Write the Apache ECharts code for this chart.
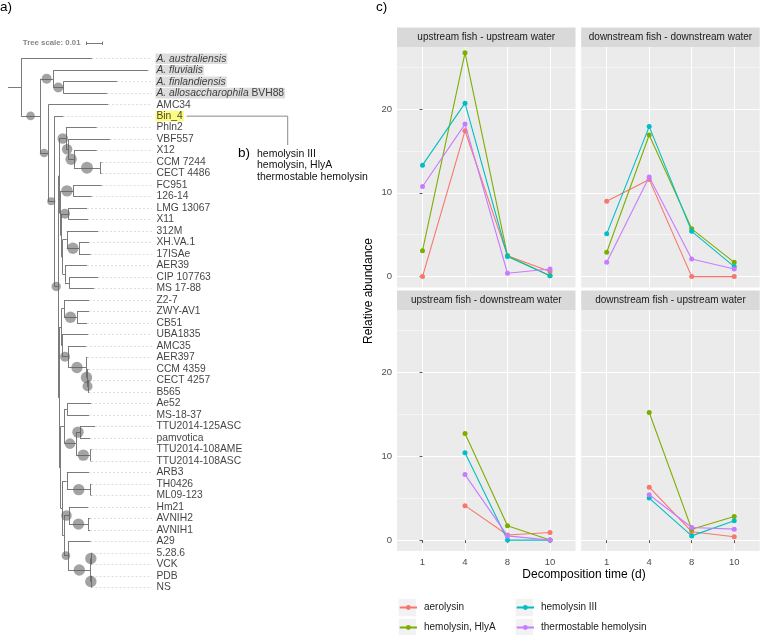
<!DOCTYPE html>
<html>
<head>
<meta charset="utf-8">
<title>Aeromonas tree and hemolysin abundance</title>
<script src="https://cdn.jsdelivr.net/npm/echarts@6.0.0/dist/echarts.min.js"></script>
<style>
  html, body { margin: 0; background: #fff; }
  #chart { width: 760px; height: 635px; }
</style>
</head>
<body>
<div id="chart"></div>
<script>
// ---------- a) phylogeny ----------
// Newick, branch lengths in 0.001 subst./site, internal labels = bootstrap support
const cladeUpper = '((Phln2:18.4,(VBF557:25.0,(X12:13.6,(CCM 7244:0.9,CECT 4486:0.9)100:15.6)95:3.4)88:1.4)88:3.8,' +
  '((FC951:17.0,126-14:11.0)95:7.6,((LMG 13067:11.2,X11:11.8)83:4.0,((312M:18.7,(XH.VA.1:6.0,17ISAe:7.0)95:7.3):2.5,' +
  '(AER39:13.2,(CIP 107763:17.2,MS 17-88:14.8):2.6):1.4):0.6):0.6):0.6):0.9';
const cladeLower = '(((Z2-7:15.0,(ZWY-AV1:7.2,CB51:6.0)95:7.8):1.4,(UBA1835:15.5,(AMC35:10.8,(AER397:0.9,(CCM 4359:0.9,' +
  '(CECT 4257:0.6,B565:0.6)83:0.6)95:0.6)95:10.8)83:3.5):0.3):1.5,(((Ae52:14.4,MS-18-37:13.2):1.8,' +
  '((TTU2014-125ASC:9.0,pamvotica:6.0)95:2.4,(TTU2014-108AME:0.5,TTU2014-108ASC:0.5)95:8.8)88:7.2):2.0,' +
  '((ARB3:13.3,(TH0426:0.5,ML09-123:0.5)95:14.3):2.7,((Hm21:11.4,(AVNIH2:1.2,AVNIH1:1.2)95:11.4)88:3.0,' +
  '(A29:13.6,((5.28.6:0.3,VCK:0.3)95:0.2,(PDB:0.3,NS:0.3)95:0.2)95:13.6)72:2.4):1.0):1.0):0.9):0.6';
const treeNewick = '(A. australiensis:42.5,((A. fluvialis:56.7,(A. finlandiensis:32.2,A. allosaccharophila BVH88:26.2)83:6.0)83:7.9,' +
  '(AMC34:35.8,(Bin_4:5.4,(' + cladeUpper + ',' + cladeLower + ')78:2.3)67:3.6)72:4.9)72:11.4):7.8;';
const refSpecies = ['A. australiensis', 'A. fluvialis', 'A. finlandiensis', 'A. allosaccharophila BVH88'];
const highlightLeaf = 'Bin_4';
const treeScale = 0.01;
const binGenes = ['hemolysin III', 'hemolysin, HlyA', 'thermostable hemolysin'];

// ---------- c) relative abundance ----------
const days = ['1', '4', '8', '10'];
const genes = ['aerolysin', 'hemolysin, HlyA', 'hemolysin III', 'thermostable hemolysin'];
const facetTitles = ['upstream fish - upstream water', 'downstream fish - downstream water',
  'upstream fish - downstream water', 'downstream fish - upstream water'];
// rows follow genes, columns follow days
const upFishUpWater = [[0, 17.4, 2.5, 0.6], [3.1, 26.7, 2.5, 0.1], [13.3, 20.7, 2.4, 0.1], [10.75, 18.2, 0.4, 0.9]];
const downFishDownWater = [[9.0, 11.6, 0, 0], [2.9, 16.9, 5.7, 1.7], [5.1, 17.9, 5.4, 1.2], [1.7, 11.9, 2.1, 0.9]];
const upFishDownWater = [[null, 4.1, 0.6, 0.9], [null, 12.7, 1.7, 0], [null, 10.4, 0, 0], [null, 7.8, 0.5, 0]];
const downFishUpWater = [[null, 6.3, 1.0, 0.4], [null, 15.2, 1.3, 2.8], [null, 5.0, 0.5, 2.3], [null, 5.4, 1.5, 1.3]];
const yTicks = [0, 10, 20];

// ---------- styles / layout ----------
const FONT = "'Liberation Sans', Arial, sans-serif";
const GENE_COLORS = ['#F8766D', '#7CAE00', '#00BFC4', '#C77CFF'];
const UNIT = 0.001;
const TREE = { left: 8, top: 35.72, width: 167, height: 557.3, xMin: -0.0078, xMax: 0.0922, yMin: -2, yMax: 46.5 };
const LABEL_X = 0.0802;
const LEADER_END = 0.0784;
const SCALE_AT = 0.0389, SCALE_ROW = -1.34;
const PANEL_LEFT = [397, 581.2], PANEL_W = 178.5;
const PANEL_TOP = [47, 310], PANEL_H = [240.5, 241], STRIP_H = 19.6;
const X_MIN = -0.6, X_MAX = 3.6, Y_MIN = -1.3, Y_MAX = 27.4;

function parseNewick(s) {
  let i = 0;
  function node() {
    const n = { children: [] };
    if (s[i] === '(') {
      i++;
      n.children.push(node());
      while (s[i] === ',') { i++; n.children.push(node()); }
      i++;
    }
    let label = '';
    while (i < s.length && !',:();'.includes(s[i])) label += s[i++];
    n.label = label.trim();
    n.len = 0;
    if (s[i] === ':') {
      i++;
      let num = '';
      while (i < s.length && !',();'.includes(s[i])) num += s[i++];
      n.len = parseFloat(num);
    }
    return n;
  }
  return node();
}

function layoutTree(root) {
  let row = 0;
  const out = [];
  (function walk(n, depth, parent) {
    n.x = depth;
    n.parent = parent;
    out.push(n);
    if (n.children.length) {
      n.children.forEach(c => walk(c, depth + c.len * UNIT, n));
      n.y = (n.children[0].y + n.children[n.children.length - 1].y) / 2;
    } else {
      n.y = row++;
    }
  })(root, 0, null);
  return out;
}

const root = parseNewick(treeNewick);
const nodes = layoutTree(root);
const leaves = nodes.filter(n => !n.children.length);

const branchSegs = [[[-root.len * UNIT, root.y], [0, root.y]]];
nodes.forEach(n => {
  if (n.parent) branchSegs.push([[n.parent.x, n.y], [n.x, n.y]]);
  if (n.children.length) {
    branchSegs.push([[n.x, n.children[0].y], [n.x, n.children[n.children.length - 1].y]]);
  }
});
const leaderSegs = leaves.map(n => [[n.x, n.y], [LEADER_END, n.y]]);
const supportPts = nodes
  .filter(n => n.parent && n.children.length && n.label)
  .map(n => [(n.parent.x + n.x) / 2, n.y, +n.label]);
const scaleSegs = [
  [[SCALE_AT, SCALE_ROW], [SCALE_AT + treeScale, SCALE_ROW]],
  [[SCALE_AT, SCALE_ROW - 0.15], [SCALE_AT, SCALE_ROW + 0.15]],
  [[SCALE_AT + treeScale, SCALE_ROW - 0.15], [SCALE_AT + treeScale, SCALE_ROW + 0.15]]
];

const labelData = leaves.map(n => {
  const ref = refSpecies.includes(n.label);
  const hi = n.label === highlightLeaf;
  const m = n.label.match(/^(A\. \S+)(.*)$/);
  return {
    value: [LABEL_X, n.y],
    label: {
      formatter: ref ? '{i|' + m[1] + '}' + m[2] : n.label,
      backgroundColor: ref ? '#d4d4d4' : (hi ? '#fafa62' : 'transparent')
    }
  };
});

const series = [
  {
    type: 'lines', coordinateSystem: 'cartesian2d', xAxisIndex: 0, yAxisIndex: 0, silent: true,
    data: leaderSegs.map(c => ({ coords: c })),
    lineStyle: { color: '#dedede', width: 1, type: [2, 2], opacity: 1 }
  },
  {
    type: 'lines', coordinateSystem: 'cartesian2d', xAxisIndex: 0, yAxisIndex: 0, silent: true,
    data: branchSegs.concat(scaleSegs).map(c => ({ coords: c })),
    lineStyle: { color: '#7b7b7b', width: 1, opacity: 1 }
  },
  {
    type: 'scatter', xAxisIndex: 0, yAxisIndex: 0, silent: true, z: 3,
    data: supportPts,
    symbolSize: v => v[2] * 0.12,
    itemStyle: { color: 'rgba(95,95,95,0.72)' }
  },
  {
    type: 'scatter', xAxisIndex: 0, yAxisIndex: 0, silent: true, z: 4,
    data: labelData,
    symbolSize: 1,
    itemStyle: { color: 'rgba(0,0,0,0)' },
    label: {
      show: true, position: 'right', distance: 0,
      fontFamily: FONT, fontSize: 10.3, color: '#111', lineHeight: 10.6, padding: [0, 1, 0, 1],
      rich: { i: { fontStyle: 'italic', fontFamily: FONT, fontSize: 10.3, color: '#111', lineHeight: 10.6 } }
    }
  },
  {
    type: 'scatter', xAxisIndex: 0, yAxisIndex: 0, silent: true,
    data: [[SCALE_AT, SCALE_ROW]],
    symbolSize: 1,
    itemStyle: { color: 'rgba(0,0,0,0)' },
    label: {
      show: true, position: 'left', distance: 5,
      formatter: 'Tree scale: ' + treeScale,
      fontFamily: FONT, fontSize: 7.8, fontWeight: 'bold', color: '#666'
    }
  }
];

const facetData = [upFishUpWater, downFishDownWater, upFishDownWater, downFishUpWater];
facetData.forEach((rows, k) => {
  rows.forEach((vals, g) => {
    series.push({
      type: 'line', name: genes[g], xAxisIndex: k + 1, yAxisIndex: k + 1,
      data: vals.map((v, i) => [i, v]).filter(p => p[1] !== null),
      symbol: 'circle', symbolSize: 5, showSymbol: true,
      itemStyle: { color: GENE_COLORS[g] },
      lineStyle: { color: GENE_COLORS[g], width: 1.1 },
      emphasis: { disabled: true }, silent: true, z: 2 + g
    });
  });
});

const grids = [{ left: TREE.left, top: TREE.top, width: TREE.width, height: TREE.height, show: false, outerBoundsMode: 'none' }];
const xAxes = [{ type: 'value', gridIndex: 0, min: TREE.xMin, max: TREE.xMax, show: false }];
const yAxes = [{ type: 'value', gridIndex: 0, min: TREE.yMin, max: TREE.yMax, inverse: true, show: false }];
const dayIdx = days.map((d, i) => i);

facetTitles.forEach((t, k) => {
  const col = k % 2, row = Math.floor(k / 2);
  grids.push({
    left: PANEL_LEFT[col], top: PANEL_TOP[row], width: PANEL_W, height: PANEL_H[row],
    show: true, backgroundColor: '#EBEBEB', borderWidth: 0, outerBoundsMode: 'none'
  });
  xAxes.push({
    type: 'value', gridIndex: k + 1, min: X_MIN, max: X_MAX,
    axisLine: { show: false },
    axisTick: { show: row === 1, customValues: dayIdx, length: 3, lineStyle: { color: '#333', width: 0.8 } },
    axisLabel: {
      show: row === 1, customValues: dayIdx, formatter: v => days[Math.round(v)],
      color: '#4D4D4D', fontSize: 9.5, fontFamily: FONT, margin: 6
    },
    splitLine: { show: true, lineStyle: { color: '#fff', width: 1 } }
  });
  yAxes.push({
    type: 'value', gridIndex: k + 1, min: Y_MIN, max: Y_MAX, splitNumber: 3,
    axisLine: { show: false },
    axisTick: { show: col === 0, customValues: yTicks, length: 3, lineStyle: { color: '#333', width: 0.8 } },
    axisLabel: { show: col === 0, customValues: yTicks, color: '#4D4D4D', fontSize: 9.5, fontFamily: FONT, margin: 5 },
    splitLine: { show: true, lineStyle: { color: '#fff', width: 1 } },
    minorTick: { show: false, splitNumber: 2 },
    minorSplitLine: { show: true, lineStyle: { color: '#fff', width: 0.5 } }
  });
});

// strips, titles, annotations
const graphics = [];
facetTitles.forEach((t, k) => {
  const col = k % 2, row = Math.floor(k / 2);
  const x = PANEL_LEFT[col], y = PANEL_TOP[row] - STRIP_H;
  graphics.push({ type: 'rect', silent: true, shape: { x, y, width: PANEL_W, height: STRIP_H }, style: { fill: '#D9D9D9' } });
  graphics.push({
    type: 'text', silent: true, x: x + PANEL_W / 2, y: y + STRIP_H / 2,
    style: { text: t, fill: '#1A1A1A', fontSize: 10, fontFamily: FONT, align: 'center', verticalAlign: 'middle' }
  });
});
[398.7, 515.7].forEach(x => [607.5, 627.5].forEach(y => {
  graphics.push({ type: 'rect', silent: true, z: 0, shape: { x, y: y - 8.65, width: 17.3, height: 17.3 }, style: { fill: '#F2F2F2' } });
}));
graphics.push({
  type: 'text', silent: true, x: 369, y: 291, rotation: Math.PI / 2,
  style: { text: 'Relative abundance', fill: '#000', fontSize: 12, fontFamily: FONT, align: 'center', verticalAlign: 'middle' }
});
graphics.push({
  type: 'text', silent: true, x: 584, y: 575,
  style: { text: 'Decomposition time (d)', fill: '#000', fontSize: 12, fontFamily: FONT, align: 'center', verticalAlign: 'middle' }
});
[['a)', 0, 7], ['c)', 376, 7], ['b)', 238, 153]].forEach(([t, x, y]) => {
  graphics.push({
    type: 'text', silent: true, x, y,
    style: { text: t, fill: '#000', fontSize: 13.5, fontFamily: FONT, align: 'left', verticalAlign: 'middle' }
  });
});
binGenes.forEach((t, i) => {
  graphics.push({
    type: 'text', silent: true, x: 257, y: 154 + i * 11.6,
    style: { text: t, fill: '#111', fontSize: 10.5, fontFamily: FONT, align: 'left', verticalAlign: 'middle' }
  });
});
const binRow = leaves.find(n => n.label === highlightLeaf).y;
const binY = TREE.top + (binRow - TREE.yMin) / (TREE.yMax - TREE.yMin) * TREE.height;
graphics.push({
  type: 'polyline', silent: true,
  shape: { points: [[186.5, binY], [287.7, binY], [287.7, 145]] },
  style: { stroke: '#8a8a8a', lineWidth: 1, fill: null }
});

const legendBase = {
  orient: 'vertical', top: 600.5, padding: 0, itemWidth: 17.3, itemHeight: 6, itemGap: 6,
  selectedMode: false,
  textStyle: { fontSize: 10, fontFamily: FONT, color: '#1A1A1A', lineHeight: 14, padding: [0, 0, 0, 2] }
};

const chart = echarts.init(document.getElementById('chart'), null, { renderer: 'canvas' });
chart.setOption({
  animation: false,
  backgroundColor: '#fff',
  textStyle: { fontFamily: FONT },
  grid: grids,
  xAxis: xAxes,
  yAxis: yAxes,
  legend: [
    Object.assign({}, legendBase, { left: 398.7, data: genes.slice(0, 2) }),
    Object.assign({}, legendBase, { left: 515.7, data: genes.slice(2) })
  ],
  graphic: graphics,
  series
});
</script>
</body>
</html>
